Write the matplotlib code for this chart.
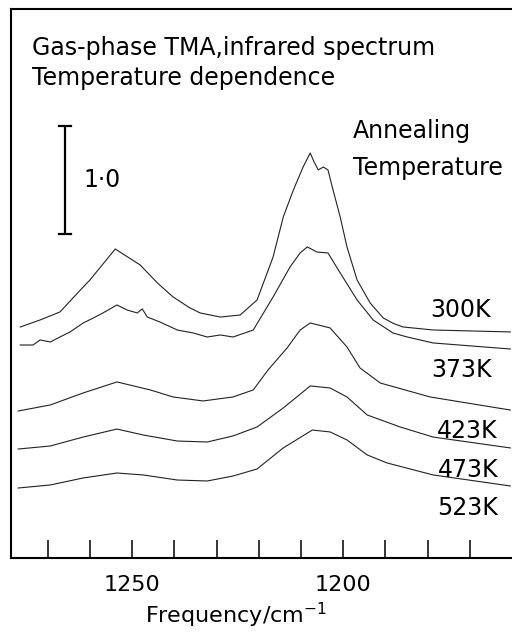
import matplotlib
matplotlib.use("Agg")
import matplotlib.pyplot as plt
from matplotlib.ticker import FixedLocator, FixedFormatter

# ---- data ----
freq_300 = [1276.5, 1271.8, 1267.1, 1261.6, 1260.0, 1254.0, 1248.1, 1244.0, 1240.3, 1236.5, 1233.9, 1229.1,
            1224.4, 1220.4, 1216.6, 1214.2, 1211.8, 1209.5, 1207.8, 1206.9, 1205.9, 1204.7, 1203.6, 1202.4,
            1200.7, 1199.1, 1196.7, 1193.6, 1190.5, 1188.0, 1185.8, 1178.7, 1160.4]
abs_300 = [2.139, 2.204, 2.278, 2.509, 2.574, 2.861, 2.713, 2.546, 2.417, 2.320, 2.269, 2.231,
           2.250, 2.389, 2.787, 3.157, 3.407, 3.620, 3.750, 3.667, 3.593, 3.620, 3.593, 3.407,
           3.157, 2.880, 2.574, 2.361, 2.222, 2.170, 2.139, 2.111, 2.093]

freq_373 = [1276.5, 1273.5, 1271.8, 1269.4, 1267.1, 1264.7, 1261.6, 1259.2, 1256.9, 1253.6, 1251.2, 1248.8,
            1247.6, 1246.4, 1243.4, 1239.3, 1235.5, 1232.2, 1229.1, 1226.1, 1221.3, 1216.6, 1212.6, 1210.2,
            1208.5, 1206.2, 1203.6, 1200.7, 1196.7, 1192.9, 1188.2, 1184.8, 1178.7, 1160.4]
abs_373 = [1.972, 1.972, 2.019, 2.000, 2.046, 2.093, 2.176, 2.222, 2.269, 2.343, 2.296, 2.269,
           2.306, 2.231, 2.185, 2.111, 2.083, 2.046, 2.065, 2.046, 2.111, 2.417, 2.694, 2.824,
           2.880, 2.833, 2.824, 2.639, 2.389, 2.204, 2.083, 2.046, 1.991, 1.935]

freq_423 = [1277.0, 1269.4, 1261.6, 1253.6, 1245.7, 1240.3, 1233.2, 1226.1, 1221.3, 1217.8, 1213.3, 1210.2,
            1207.8, 1203.1, 1199.1, 1196.0, 1191.2, 1179.4, 1160.4]
abs_423 = [1.361, 1.417, 1.528, 1.630, 1.556, 1.491, 1.454, 1.491, 1.556, 1.741, 1.944, 2.111,
           2.176, 2.130, 1.954, 1.759, 1.620, 1.491, 1.370]

freq_473 = [1277.0, 1269.4, 1261.6, 1253.6, 1247.4, 1239.3, 1232.2, 1226.1, 1220.4, 1214.2, 1207.8, 1203.1,
            1199.1, 1194.3, 1186.5, 1178.7, 1160.4]
abs_473 = [1.009, 1.037, 1.120, 1.194, 1.139, 1.083, 1.074, 1.130, 1.213, 1.389, 1.593, 1.574,
           1.491, 1.324, 1.213, 1.120, 1.019]

freq_523 = [1277.0, 1269.4, 1261.6, 1253.6, 1247.4, 1239.3, 1232.2, 1226.1, 1220.4, 1214.2, 1207.3, 1203.1,
            1199.1, 1194.3, 1189.6, 1178.7, 1160.4]
abs_523 = [0.648, 0.676, 0.741, 0.787, 0.769, 0.722, 0.713, 0.759, 0.824, 1.019, 1.185, 1.167,
           1.093, 0.954, 0.880, 0.769, 0.667]

temp_labels = ["300K", "373K", "423K", "473K", "523K"]
label_y = [2.231, 1.676, 1.111, 0.750, 0.398]
label_x = [1165.0, 1164.7, 1163.5, 1163.3, 1163.3]

tick_positions = [1270, 1260, 1250, 1240, 1230, 1220, 1210, 1200, 1190, 1180, 1170]
tick_labels = ["", "", "1250", "", "", "", "", "1200", "", "", ""]

scale_bar_x = 1265.9
scale_bar_y = [3.0, 4.0]

# ---- figure ----
plt.rcParams['font.family'] = ['DejaVu Sans']
W, H = 512, 636
fig = plt.figure(figsize=(W / 100, H / 100), dpi=100)
ax = fig.add_axes([11 / W, 78 / H, (W - 11) / W, 549 / H])

series = [(freq_300, abs_300), (freq_373, abs_373), (freq_423, abs_423),
          (freq_473, abs_473), (freq_523, abs_523)]
for f, a in series:
    ax.plot(f, a, color="#222222", lw=0.8)

for t, x, y in zip(temp_labels, label_x, label_y):
    ax.text(x, y, t, ha="right", va="baseline", fontsize=17)

# scale bar
ax.plot([scale_bar_x, scale_bar_x], scale_bar_y, color="black", lw=1.6, solid_capstyle="butt")
for yy in scale_bar_y:
    ax.plot([scale_bar_x - 1.4, scale_bar_x + 1.4], [yy, yy], color="black", lw=1.6)

ax.set_xlim(1278.7, 1160.0)
ax.set_ylim(0, 5.083)

ax.spines["right"].set_visible(False)
for s in ["left", "top", "bottom"]:
    ax.spines[s].set_linewidth(1.5)

ax.xaxis.set_major_locator(FixedLocator(tick_positions))
ax.xaxis.set_major_formatter(FixedFormatter(tick_labels))
ax.tick_params(axis="x", direction="in", length=13, width=1.1, pad=12, labelsize=16)
ax.set_yticks([])

fig.text(32 / W, 1 - 55 / H, "Gas-phase TMA,infrared spectrum", fontsize=17, va="baseline")
fig.text(32 / W, 1 - 85 / H, "Temperature dependence", fontsize=17, va="baseline")
fig.text(353 / W, 1 - 138 / H, "Annealing", fontsize=17, va="baseline")
fig.text(353 / W, 1 - 175 / H, "Temperature", fontsize=17, va="baseline")
fig.text(83 / W, 1 - 187 / H, "1\u00b70", fontsize=17, va="baseline")
fig.text(236.5 / W, 1 - 623 / H, "Frequency/cm$^{\\mathregular{-1}}$", fontsize=16,
         ha="center", va="baseline")

fig.savefig("out.png", dpi=100)
